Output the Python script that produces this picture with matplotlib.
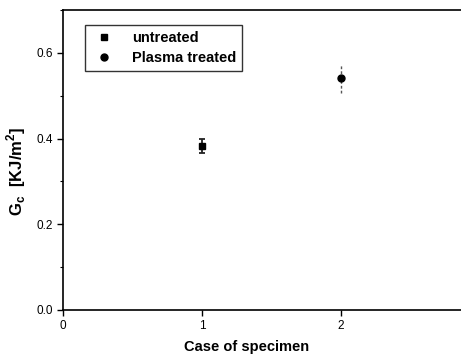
import matplotlib
matplotlib.use('Agg')
import matplotlib.pyplot as plt
from matplotlib.ticker import MultipleLocator
from matplotlib.lines import Line2D

plt.rcParams['font.family'] = ['Liberation Sans', 'DejaVu Sans']
plt.rcParams['mathtext.fontset'] = 'custom'
plt.rcParams['mathtext.rm'] = 'Liberation Sans'
plt.rcParams['mathtext.bf'] = 'Liberation Sans:bold'

# data
cases = [1, 2]
labels = ['untreated', 'Plasma treated']
gc_values = [0.383, 0.541]
gc_errors = [0.016, 0.034]
markers = ['s', 'o']
x_ticks = [0, 1, 2]
y_ticks = [0.0, 0.2, 0.4, 0.6]

fig = plt.figure(figsize=(4.61, 3.61), dpi=100)
ax = fig.add_axes([63 / 461, 51 / 361, 398 / 461, 300 / 361])

# untreated: solid bar with caps
ax.errorbar(cases[0], gc_values[0], yerr=gc_errors[0], fmt=markers[0], color='black',
            ms=4.5, ecolor='#222222', elinewidth=1.3, capsize=2.2, capthick=1.3)
# plasma treated: thin dotted bar, no caps
eb = ax.errorbar(cases[1], gc_values[1], yerr=gc_errors[1], fmt=markers[1], color='black',
                 ms=5, ecolor='#555555', elinewidth=1.0, capsize=0)
eb[2][0].set_linestyle((0, (2, 1.5)))

ax.set_xlim(0, 398 / 139)
ax.set_ylim(0, 0.70)
ax.set_xticks(x_ticks)
ax.set_xticklabels([str(t) for t in x_ticks])
ax.set_yticks(y_ticks)
ax.set_yticklabels([f'{t:.1f}' for t in y_ticks])
ax.yaxis.set_minor_locator(MultipleLocator(0.1))
ax.tick_params(axis='both', direction='out', labelsize=8.5, length=4, width=1)
ax.tick_params(axis='y', which='minor', direction='out', length=2.5, width=0.8)
ax.spines['right'].set_visible(False)
for s in ['left', 'bottom', 'top']:
    ax.spines[s].set_linewidth(1.2)

ax.set_xlabel('Case of specimen', fontsize=10.5, fontweight='bold')
ax.xaxis.set_label_coords((247 - 63) / 398, -(340 - 310) / 300)
ax.set_ylabel(r'G$_\mathbf{c}$  [KJ/m$^\mathbf{2}$]', fontsize=12, fontweight='bold')
ax.yaxis.set_label_coords(-(63 - 28) / 398, (310 - 171) / 300)

handles = [Line2D([], [], ls='none', marker=m, color='black', ms=5) for m in markers]
leg = ax.legend(handles, labels, loc='upper left',
                bbox_to_anchor=(22 / 398, 1 - 15 / 300), borderaxespad=0,
                frameon=True, fancybox=False, edgecolor='black',
                prop={'weight': 'bold', 'size': 10.5}, handletextpad=1.0,
                borderpad=0.4, labelspacing=0.4, handlelength=1.8)
leg.get_frame().set_linewidth(1.0)

fig.savefig('out.png', dpi=100, facecolor='white')
